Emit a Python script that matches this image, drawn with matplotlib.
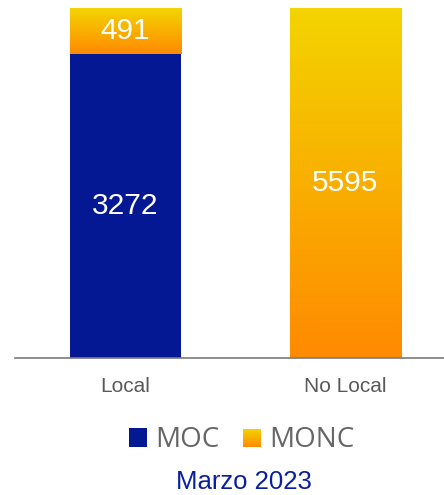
import numpy as np
import matplotlib.pyplot as plt
from matplotlib.colors import LinearSegmentedColormap
from matplotlib.patches import Rectangle
from matplotlib.legend_handler import HandlerBase

categories = ['Local', 'No Local']
moc = [3272, 0]
monc = [491, 5595]
series_names = ['MOC', 'MONC']
title = 'Marzo 2023'

blue = '#041893'
grad_top = '#F3D400'
grad_bottom = '#FF8A00'
grad = LinearSegmentedColormap.from_list('monc', [grad_bottom, grad_top])

plt.rcParams['font.family'] = ['Liberation Sans', 'DejaVu Sans']

totals = np.array(moc) + np.array(monc)
moc_pct = np.array(moc) / totals
monc_pct = np.array(monc) / totals
x = np.arange(len(categories))
width = 0.505

fig = plt.figure(figsize=(4.44, 4.95), dpi=100)
ax = fig.add_axes([15 / 444, (495 - 358) / 495, 429 / 444, 350 / 495])

bars_moc = ax.bar(x, moc_pct, width, color=blue, zorder=2)
bars_monc = ax.bar(x, monc_pct, width, bottom=moc_pct, color='none', zorder=2)

# gradient fill for MONC segments
g = np.linspace(0, 1, 256).reshape(-1, 1)
for b in bars_monc:
    if b.get_height() <= 0:
        continue
    x0, y0 = b.get_x(), b.get_y()
    im = ax.imshow(g, cmap=grad, origin='lower', aspect='auto',
                   extent=[x0, x0 + b.get_width(), y0, y0 + b.get_height()], zorder=2)
    im.set_clip_path(b)

for i in range(len(categories)):
    if moc[i] > 0:
        ax.text(x[i], moc_pct[i] / 2, str(moc[i]), ha='center', va='center',
                color='white', fontsize=21.5)
    if monc[i] > 0:
        ax.text(x[i], moc_pct[i] + monc_pct[i] / 2, str(monc[i]), ha='center', va='center',
                color='white', fontsize=21.5)

ax.set_xlim(-0.502, 1.448)
ax.set_ylim(0, 1)
for s in ['top', 'right', 'left']:
    ax.spines[s].set_visible(False)
ax.spines['bottom'].set_color('#7a7a7a')
ax.spines['bottom'].set_linewidth(1.2)
ax.set_yticks([])
ax.set_xticks(x)
ax.set_xticklabels(categories, color='#595959', fontsize=15)
ax.tick_params(axis='x', length=0, pad=14)


class GradientHandler(HandlerBase):
    def create_artists(self, legend, orig, xd, yd, w, h, fontsize, trans):
        n = 30
        arts = []
        for k in range(n):
            c = grad(1 - k / (n - 1))
            arts.append(Rectangle((xd, yd + h - (k + 1) * h / n), w, h / n + 0.3,
                                  facecolor=c, edgecolor='none', transform=trans))
        return arts


h1 = Rectangle((0, 0), 1, 1, facecolor=blue)
h2 = Rectangle((0, 0), 1, 1, facecolor=grad_top)
fig.legend([h1, h2], series_names, handler_map={h2: GradientHandler()},
           loc='center', bbox_to_anchor=(242 / 444, 1 - 440 / 495), ncol=2, frameon=False,
           prop={'family': 'Open Sans', 'size': 20}, labelcolor='#666666',
           handlelength=0.65, handleheight=0.65, handletextpad=0.3, columnspacing=0.85)

fig.text(244 / 444, 1 - 482 / 495, title, ha='center', va='center', color='#0a1f9c', fontsize=18.5)

fig.savefig('out.png', dpi=100)
